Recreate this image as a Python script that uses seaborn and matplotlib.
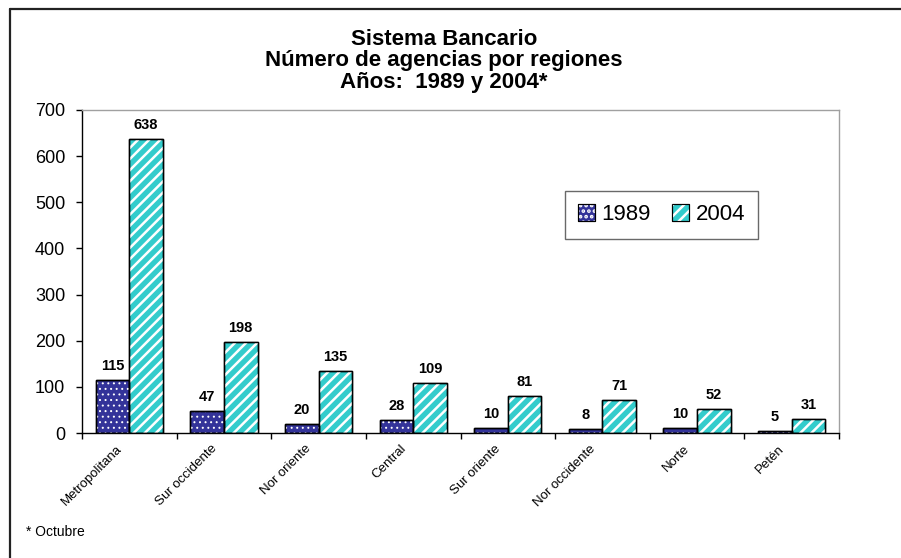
import matplotlib
matplotlib.use("Agg")
import matplotlib.pyplot as plt
from matplotlib.patches import Rectangle, Patch
from matplotlib.legend_handler import HandlerTuple
from matplotlib.lines import Line2D
from matplotlib.transforms import ScaledTranslation
import seaborn as sns
import pandas as pd

regiones = ["Metropolitana", "Sur occidente", "Nor oriente", "Central",
            "Sur oriente", "Nor occidente", "Norte", "Petén"]
agencias_1989 = [115, 47, 20, 28, 10, 8, 10, 5]
agencias_2004 = [638, 198, 135, 109, 81, 71, 52, 31]
anios = ["1989", "2004"]
y_ticks = [0, 100, 200, 300, 400, 500, 600, 700]

NAVY = "#333399"
CYAN = "#33CCCC"

df = pd.DataFrame({
    "Región": regiones * 2,
    "Año": [anios[0]] * len(regiones) + [anios[1]] * len(regiones),
    "Agencias": agencias_1989 + agencias_2004,
})

sns.set_theme(style="white")
plt.rcParams["font.family"] = ["Liberation Sans", "DejaVu Sans"]
plt.rcParams["text.color"] = "black"
plt.rcParams["xtick.color"] = "black"
plt.rcParams["ytick.color"] = "black"
plt.rcParams["hatch.linewidth"] = 1.8

fig = plt.figure(figsize=(9.01, 5.58), dpi=100)
ax = fig.add_axes([0.0910, 0.224, 0.8402, 0.5789])

sns.barplot(data=df, x="Región", y="Agencias", hue="Año", order=regiones,
            hue_order=anios, palette={anios[0]: NAVY, anios[1]: CYAN},
            width=0.71, gap=0, edgecolor="black", linewidth=1.0,
            saturation=1, legend=False, ax=ax)

# white pattern over each bar: dots for 1989, diagonal stripes for 2004
patterns = {0: "...", 1: "///"}
pattern_lw = {0: 0.7, 1: 1.8}


def pattern_patch(xy, w, h, idx, z=None):
    p = Rectangle(xy, w, h, fill=False, edgecolor="white", linewidth=0,
                  hatch=patterns[idx])
    if hasattr(p, "set_hatch_linewidth"):
        p.set_hatch_linewidth(pattern_lw[idx])
    if z is not None:
        p.set_zorder(z)
    return p


for i, cont in enumerate(ax.containers):
    for bar in cont:
        ax.add_patch(pattern_patch(bar.get_xy(), bar.get_width(),
                                   bar.get_height(), i, bar.get_zorder() + 0.1))
        ax.add_patch(Rectangle(bar.get_xy(), bar.get_width(), bar.get_height(),
                               fill=False, edgecolor="black", linewidth=1.0,
                               zorder=bar.get_zorder() + 0.2))
    ax.bar_label(cont, labels=[str(int(v)) for v in cont.datavalues],
                 padding=5, fontsize=10.5, fontweight="bold")

ax.set_xlim(-0.5, len(regiones) - 0.5)
ax.set_ylim(0, 700)
ax.set_yticks(y_ticks)
ax.set_yticklabels([str(t) for t in y_ticks], fontsize=13)
ax.tick_params(axis="y", which="major", direction="out", length=4, width=1,
               color="black", pad=8, left=True)

# category boundaries carry the tick marks, centres carry the names
ax.set_xticks([k - 0.5 for k in range(len(regiones) + 1)])
ax.set_xticklabels([])
ax.set_xticks(range(len(regiones)), minor=True)
ax.set_xticklabels(regiones, minor=True, rotation=45, ha="right",
                   va="center", rotation_mode="anchor", fontsize=9.5)
ax.tick_params(axis="x", which="major", direction="out", length=4, width=1,
               color="black", bottom=True)
ax.tick_params(axis="x", which="minor", length=0, pad=10)
shift = ScaledTranslation(-9 / 100, 0, fig.dpi_scale_trans)
for lbl in ax.get_xticklabels(minor=True):
    lbl.set_transform(lbl.get_transform() + shift)
ax.set_xlabel("")
ax.set_ylabel("")

for side in ("top", "right"):
    ax.spines[side].set_color("#a0a0a0")
    ax.spines[side].set_linewidth(1.0)
for side in ("left", "bottom"):
    ax.spines[side].set_color("black")
    ax.spines[side].set_linewidth(1.0)


def legend_handle(color, idx):
    over = Patch(facecolor="none", edgecolor="white", linewidth=0,
                 hatch=patterns[idx])
    if hasattr(over, "set_hatch_linewidth"):
        over.set_hatch_linewidth(pattern_lw[idx])
    return (Patch(facecolor=color, edgecolor="black", linewidth=0.8), over,
            Patch(facecolor="none", edgecolor="black", linewidth=0.8))


handles = [legend_handle(NAVY, 0), legend_handle(CYAN, 1)]
leg = ax.legend(handles, anios, handler_map={tuple: HandlerTuple(ndivide=1)},
                loc="upper left", bbox_to_anchor=(0.638, 0.7492),
                ncol=2, fontsize=16, frameon=True, fancybox=False,
                handlelength=0.75, handleheight=0.75, handletextpad=0.3,
                columnspacing=0.95, borderpad=0.6, borderaxespad=0)
leg.get_frame().set_edgecolor("#444444")
leg.get_frame().set_linewidth(1.0)

fig.text(0.493, 0.948,
         "Sistema Bancario\nNúmero de agencias por regiones\nAños:  1989 y 2004*",
         ha="center", va="top", fontsize=16, fontweight="bold", linespacing=1.02)
fig.text(0.029, 0.047, "* Octubre", ha="left", va="center", fontsize=10)

# outer chart frame
fig.add_artist(Line2D([0.0111, 0.0111], [0.0, 0.984], transform=fig.transFigure,
                      color="#222222", linewidth=1.6))
fig.add_artist(Line2D([0.0111, 1.0], [0.984, 0.984], transform=fig.transFigure,
                      color="#222222", linewidth=1.6))

fig.savefig("out.png", dpi=100)
